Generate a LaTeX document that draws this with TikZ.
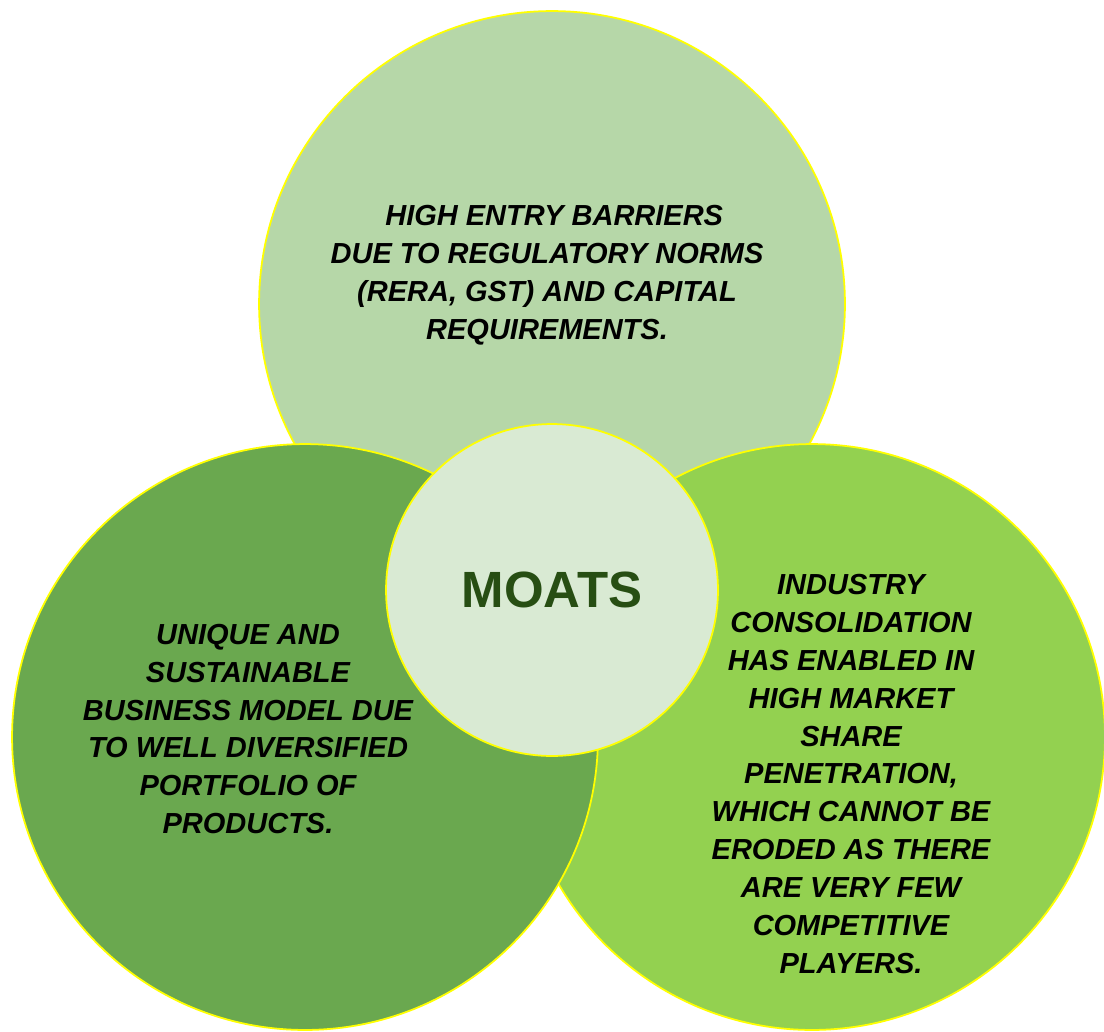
\documentclass[tikz,border=0pt]{standalone}
\usepackage{fontspec}
\setmainfont{Liberation Sans}
\usetikzlibrary{positioning}

\definecolor{topgreen}{HTML}{B6D7A8}
\definecolor{leftgreen}{HTML}{6AA84F}
\definecolor{rightgreen}{HTML}{93D150}
\definecolor{midgreen}{HTML}{D9EAD3}
\definecolor{darkgreen}{HTML}{274E13}
\definecolor{rim}{HTML}{FFFF00}

\begin{document}
\begin{tikzpicture}[x=0.02cm, y=-0.02cm,
        moat/.style={circle, draw=rim, line width=1pt, inner sep=0pt},
        bigmoat/.style={moat, minimum size=11.72cm},
        blurb/.style={align=center, text=black,
            font=\fontsize{16.5}{21.6}\selectfont\bfseries\itshape}]
        \useasboundingbox (0,0) rectangle (1104,1031);

        % back to front: top, right, left, then the centre
        \node[bigmoat, fill=topgreen] (barriers) at (552,304) {};
        \node[bigmoat, fill=rightgreen] (consolidation) at (812,737) {};
        \node[bigmoat, fill=leftgreen] (business) at (305,737) {};
        \node[moat, fill=midgreen, minimum size=6.64cm] (moats) at (552,590) {};

        \node[text=darkgreen, font=\fontsize{29}{34}\selectfont\bfseries] (moatslabel) at (moats) {MOATS};

        \node[blurb] (barrierstext) at (547,275)
            {\hspace{0.5em}HIGH ENTRY BARRIERS\\DUE TO REGULATORY NORMS\\(RERA, GST) AND CAPITAL\\REQUIREMENTS.};
        \node[blurb] (businesstext) at (248,729)
            {UNIQUE AND\\SUSTAINABLE\\BUSINESS MODEL DUE\\TO WELL DIVERSIFIED\\PORTFOLIO OF\\PRODUCTS.};
        \node[blurb] (consolidationtext) at (851,774)
            {INDUSTRY\\CONSOLIDATION\\HAS ENABLED IN\\HIGH MARKET\\SHARE\\PENETRATION,\\WHICH CANNOT BE\\ERODED AS THERE\\ARE VERY FEW\\COMPETITIVE\\PLAYERS.};
    \end{tikzpicture}
\end{document}
